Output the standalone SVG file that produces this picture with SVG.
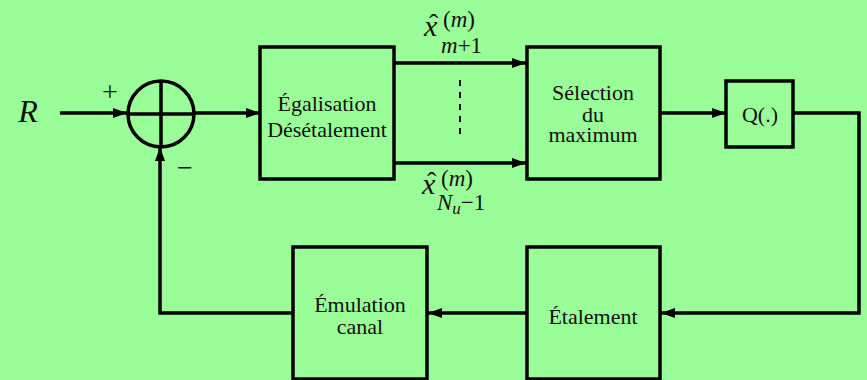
<svg xmlns="http://www.w3.org/2000/svg" width="867" height="380" viewBox="0 0 867 380">
<style>
.box{fill:#9AFE98;stroke:#000;stroke-width:3.5}
.ln{fill:none;stroke:#000;stroke-width:3.5}
text{font-family:'Liberation Serif','Times New Roman',serif;fill:#111}
.t{font-size:22px;text-anchor:middle}
.m{font-style:italic}
.r{font-style:normal}
</style>
<defs>
<marker id="arr" viewBox="0 0 14 10" refX="14" refY="5" markerWidth="14" markerHeight="10" markerUnits="userSpaceOnUse" orient="auto">
<path d="M0,0 L14,5 L0,10 Z" fill="#000"/>
</marker>
</defs>
<rect x="0" y="0" width="867" height="380" fill="#9AFE98"/>
<g id="connectors">
<line class="ln" x1="60" y1="113" x2="127" y2="113" marker-end="url(#arr)"/>
<line class="ln" x1="195" y1="113" x2="260" y2="113" marker-end="url(#arr)"/>
<line class="ln" x1="394" y1="63" x2="526" y2="63" marker-end="url(#arr)"/>
<line class="ln" x1="394" y1="163" x2="526" y2="163" marker-end="url(#arr)"/>
<line x1="460" y1="80" x2="460" y2="140" stroke="#000" stroke-width="2" stroke-dasharray="6,6"/>
<line class="ln" x1="660" y1="113" x2="726" y2="113" marker-end="url(#arr)"/>
<polyline class="ln" points="793,113 859,113 859,313 661,313" marker-end="url(#arr)"/>
<line class="ln" x1="527" y1="313" x2="428" y2="313" marker-end="url(#arr)"/>
<polyline class="ln" points="293,313 160,313 160,147" marker-end="url(#arr)"/>
</g>
<g id="sum">
<circle cx="161" cy="114" r="33" fill="none" stroke="#000" stroke-width="3.5"/>
<line class="ln" x1="128" y1="114" x2="194" y2="114"/>
<line class="ln" x1="161" y1="81" x2="161" y2="147"/>
<text x="110" y="101" font-size="28" text-anchor="middle">+</text>
<text x="185" y="177" font-size="28" text-anchor="middle">−</text>
</g>
<g id="input">
<text class="m" x="28" y="122" font-size="32" text-anchor="middle">R</text>
</g>
<g id="egalisation">
<rect class="box" x="260" y="47" width="134" height="132"/>
<text class="t" x="327" y="111">Égalisation</text>
<text class="t" x="327" y="137">Désétalement</text>
</g>
<g id="label-top">
<text class="m" x="424" y="36" font-size="30">x</text>
<text x="429" y="33" font-size="28">ˆ</text>
<text class="m" x="443" y="27" font-size="23"><tspan class="r">(</tspan>m<tspan class="r">)</tspan></text>
<text class="m" x="441" y="53" font-size="23">m<tspan class="r">+1</tspan></text>
</g>
<g id="label-bottom">
<text class="m" x="422" y="194" font-size="30">x</text>
<text x="427" y="191" font-size="28">ˆ</text>
<text class="m" x="441" y="186" font-size="23"><tspan class="r">(</tspan>m<tspan class="r">)</tspan></text>
<text class="m" x="437" y="210" font-size="23">N<tspan font-size="17" dy="4">u</tspan><tspan class="r" dy="-4">−1</tspan></text>
</g>
<g id="selection">
<rect class="box" x="527" y="47" width="133" height="132"/>
<text class="t" x="593" y="100">Sélection</text>
<text class="t" x="593" y="122">du</text>
<text class="t" x="593" y="142">maximum</text>
</g>
<g id="quantif">
<rect class="box" x="726" y="81" width="67" height="66"/>
<text class="t" x="760" y="122" font-size="26">Q(.)</text>
</g>
<g id="etalement">
<rect class="box" x="527" y="247" width="133" height="132"/>
<text class="t" x="593" y="324">Étalement</text>
</g>
<g id="emulation">
<rect class="box" x="293" y="247" width="134" height="132"/>
<text class="t" x="360" y="312">Émulation</text>
<text class="t" x="360" y="334">canal</text>
</g>
</svg>
